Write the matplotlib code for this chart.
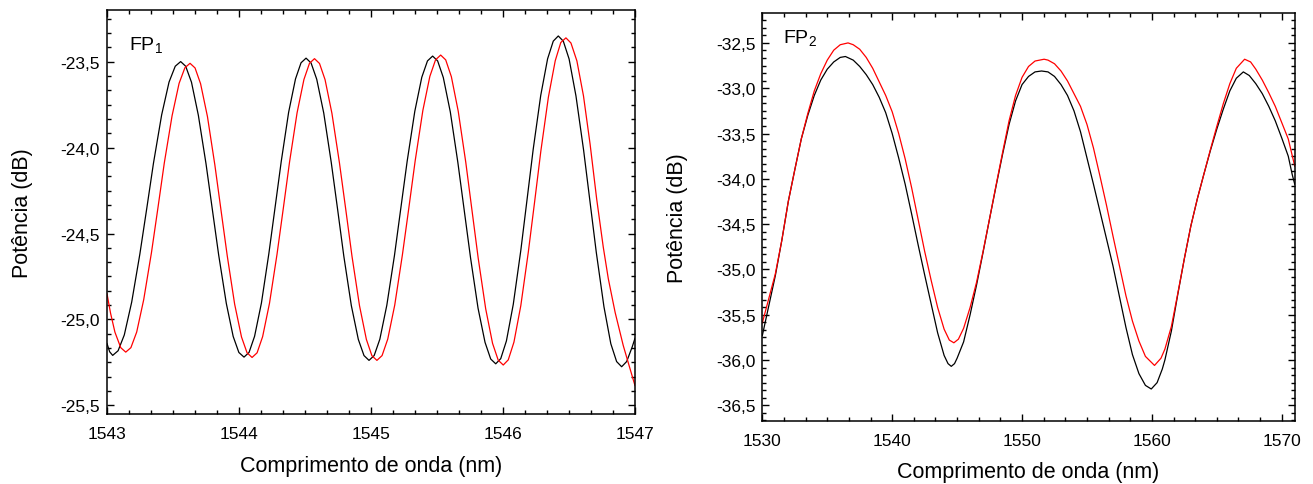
import matplotlib
matplotlib.use("Agg")
import matplotlib.pyplot as plt
from matplotlib.ticker import AutoMinorLocator, FuncFormatter, MultipleLocator

plt.rcParams['font.family'] = ['Liberation Sans', 'DejaVu Sans']
plt.rcParams['mathtext.default'] = 'regular'

# FP1 - black trace
fp1_wl_black = [1543.000, 1543.020, 1543.043,
                1543.084, 1543.131, 1543.187, 1543.249, 1543.301, 1543.352, 1543.414, 1543.470, 1543.517, 1543.558,
                1543.596, 1543.640, 1543.692, 1543.750, 1543.798, 1543.846, 1543.904, 1543.956, 1543.999, 1544.038,
                1544.076, 1544.118, 1544.170, 1544.226, 1544.273, 1544.320, 1544.376, 1544.428, 1544.470, 1544.508,
                1544.546, 1544.589, 1544.642, 1544.699, 1544.747, 1544.794, 1544.851, 1544.904, 1544.947, 1544.985,
                1545.024, 1545.067, 1545.120, 1545.178, 1545.226, 1545.274, 1545.332, 1545.385, 1545.428, 1545.467,
                1545.505, 1545.548, 1545.601, 1545.658, 1545.706, 1545.754, 1545.811, 1545.864, 1545.907, 1545.945,
                1545.983, 1546.026, 1546.078, 1546.135, 1546.182, 1546.229, 1546.286, 1546.338, 1546.381, 1546.419,
                1546.457, 1546.501, 1546.553, 1546.611, 1546.659, 1546.707, 1546.765, 1546.817, 1546.861, 1546.899,
                1546.937, 1546.979, 1547.000]
fp1_pw_black = [-25.140, -25.188, -25.209,
                -25.182, -25.090, -24.899, -24.619, -24.355, -24.091, -23.810, -23.619, -23.527, -23.500,
                -23.527, -23.620, -23.812, -24.094, -24.360, -24.625, -24.907, -25.099, -25.192, -25.219,
                -25.192, -25.098, -24.904, -24.618, -24.350, -24.081, -23.795, -23.601, -23.507, -23.480,
                -23.508, -23.603, -23.799, -24.087, -24.359, -24.631, -24.919, -25.116, -25.210, -25.238,
                -25.210, -25.115, -24.917, -24.627, -24.353, -24.080, -23.789, -23.591, -23.496, -23.468,
                -23.496, -23.593, -23.793, -24.086, -24.363, -24.640, -24.934, -25.133, -25.230, -25.258,
                -25.228, -25.125, -24.912, -24.599, -24.305, -24.010, -23.697, -23.484, -23.381, -23.351,
                -23.381, -23.485, -23.700, -24.016, -24.313, -24.610, -24.926, -25.141, -25.245, -25.275,
                -25.245, -25.160, -25.110]

# FP1 - red trace
fp1_wl_red = [1543.000, 1543.027, 1543.060, 1543.104, 1543.142,
              1543.181, 1543.225, 1543.278, 1543.337, 1543.386, 1543.434, 1543.493, 1543.546, 1543.590, 1543.629,
              1543.667, 1543.709, 1543.761, 1543.817, 1543.864, 1543.911, 1543.967, 1544.019, 1544.061, 1544.099,
              1544.137, 1544.179, 1544.231, 1544.288, 1544.336, 1544.383, 1544.440, 1544.492, 1544.534, 1544.572,
              1544.610, 1544.652, 1544.704, 1544.761, 1544.809, 1544.856, 1544.913, 1544.965, 1545.007, 1545.045,
              1545.084, 1545.127, 1545.180, 1545.238, 1545.287, 1545.335, 1545.393, 1545.446, 1545.489, 1545.528,
              1545.566, 1545.609, 1545.661, 1545.718, 1545.765, 1545.812, 1545.869, 1545.921, 1545.964, 1546.002,
              1546.040, 1546.083, 1546.135, 1546.192, 1546.240, 1546.287, 1546.344, 1546.396, 1546.438, 1546.477,
              1546.515, 1546.560, 1546.610, 1546.660, 1546.710, 1546.760, 1546.798, 1546.850, 1546.911, 1546.960,
              1547.000]
fp1_pw_red = [-24.851, -24.964, -25.074, -25.164, -25.190,
              -25.164, -25.073, -24.885, -24.610, -24.350, -24.090, -23.815, -23.627, -23.536, -23.510,
              -23.537, -23.629, -23.820, -24.101, -24.366, -24.630, -24.911, -25.102, -25.194, -25.221,
              -25.194, -25.100, -24.906, -24.621, -24.352, -24.084, -23.798, -23.604, -23.510, -23.483,
              -23.511, -23.605, -23.801, -24.089, -24.361, -24.632, -24.920, -25.116, -25.211, -25.238,
              -25.210, -25.114, -24.916, -24.624, -24.350, -24.076, -23.784, -23.586, -23.490, -23.462,
              -23.490, -23.588, -23.789, -24.085, -24.364, -24.642, -24.938, -25.139, -25.237, -25.265,
              -25.235, -25.132, -24.920, -24.608, -24.314, -24.020, -23.707, -23.495, -23.389, -23.362,
              -23.392, -23.496, -23.700, -23.980, -24.300, -24.580, -24.763, -24.960, -25.151, -25.280,
              -25.384]

# FP2 - black trace
fp2_wl_black = [1530.0, 1530.5, 1531.0, 1531.5, 1532.0, 1532.5, 1533.0, 1533.5, 1534.0, 1534.5,
                1535.0, 1535.5, 1536.0, 1536.4, 1537.0, 1537.5, 1538.0, 1538.5, 1539.0, 1539.5,
                1540.0, 1540.5, 1541.0, 1541.5, 1542.0, 1542.5, 1543.0, 1543.5, 1544.0, 1544.3,
                1544.55, 1544.8, 1545.0, 1545.5, 1546.0, 1546.5, 1547.0, 1547.5, 1548.0, 1548.5,
                1549.0, 1549.5, 1550.0, 1550.5, 1551.0, 1551.5, 1552.0, 1552.5, 1553.0, 1553.5,
                1554.0, 1554.5, 1555.0, 1555.5, 1556.0, 1556.5, 1557.0, 1557.5, 1558.0, 1558.5,
                1559.0, 1559.5, 1559.95, 1560.4, 1560.8, 1561.0, 1561.5, 1562.0, 1562.5, 1563.0,
                1563.5, 1564.0, 1564.5, 1565.0, 1565.5, 1566.0, 1566.5, 1567.04, 1567.5, 1568.0,
                1568.5, 1569.0, 1569.5, 1570.0, 1570.5, 1570.8, 1571.0]
fp2_pw_black = [-35.73, -35.40, -35.07, -34.68, -34.25, -33.90, -33.56, -33.30, -33.08, -32.91,
                -32.79, -32.71, -32.66, -32.65, -32.69, -32.76, -32.85, -32.96, -33.10, -33.27,
                -33.50, -33.77, -34.06, -34.39, -34.73, -35.06, -35.38, -35.70, -35.95, -36.04,
                -36.07, -36.04, -35.98, -35.80, -35.50, -35.17, -34.81, -34.44, -34.08, -33.73,
                -33.40, -33.14, -32.96, -32.87, -32.82, -32.81, -32.82, -32.87, -32.96, -33.08,
                -33.25, -33.48, -33.77, -34.06, -34.36, -34.66, -34.96, -35.30, -35.64, -35.94,
                -36.15, -36.28, -36.32, -36.25, -36.10, -36.00, -35.68, -35.27, -34.88, -34.52,
                -34.22, -33.95, -33.69, -33.45, -33.23, -33.03, -32.89, -32.82, -32.86, -32.95,
                -33.06, -33.20, -33.36, -33.55, -33.75, -33.95, -34.06]

# FP2 - red trace
fp2_wl_red = [1530.0, 1530.5, 1531.0, 1531.5, 1532.0, 1532.5, 1533.0, 1533.5, 1534.0, 1534.5,
              1535.0, 1535.5, 1536.0, 1536.6, 1537.0, 1537.5, 1538.0, 1538.5, 1539.0, 1539.5,
              1540.0, 1540.5, 1541.0, 1541.5, 1542.0, 1542.5, 1543.0, 1543.5, 1544.0, 1544.4,
              1544.75, 1545.1, 1545.5, 1546.0, 1546.5, 1547.0, 1547.5, 1548.0, 1548.5, 1549.0,
              1549.5, 1550.0, 1550.5, 1551.0, 1551.7, 1552.0, 1552.5, 1553.0, 1553.5, 1554.0,
              1554.5, 1555.0, 1555.5, 1556.0, 1556.5, 1557.0, 1557.5, 1558.0, 1558.5, 1559.0,
              1559.5, 1560.2, 1560.7, 1561.0, 1561.5, 1562.0, 1562.5, 1563.0, 1563.5, 1564.0,
              1564.5, 1565.0, 1565.5, 1566.0, 1566.5, 1567.14, 1567.6, 1568.0, 1568.5, 1569.0,
              1569.5, 1570.0, 1570.5, 1571.0]
fp2_pw_red = [-35.59, -35.32, -35.05, -34.68, -34.25, -33.90, -33.56, -33.28, -33.03, -32.84,
              -32.69, -32.58, -32.52, -32.50, -32.52, -32.57, -32.66, -32.78, -32.93, -33.08,
              -33.26, -33.50, -33.78, -34.10, -34.45, -34.80, -35.12, -35.42, -35.66, -35.78,
              -35.81, -35.77, -35.65, -35.42, -35.14, -34.80, -34.44, -34.07, -33.71, -33.36,
              -33.08, -32.88, -32.76, -32.70, -32.68, -32.69, -32.73, -32.81, -32.92, -33.06,
              -33.20, -33.40, -33.66, -33.97, -34.29, -34.63, -34.96, -35.29, -35.57, -35.79,
              -35.96, -36.06, -35.98, -35.88, -35.63, -35.26, -34.88, -34.52, -34.22, -33.95,
              -33.68, -33.42, -33.17, -32.95, -32.78, -32.68, -32.71, -32.79, -32.91, -33.05,
              -33.20, -33.38, -33.56, -33.86]


def comma(v, pos):
    return ('%.1f' % v).replace('.', ',')


def style_axes(ax, xmajor, ymajor):
    ax.xaxis.set_major_locator(MultipleLocator(xmajor))
    ax.yaxis.set_major_locator(MultipleLocator(ymajor))
    ax.xaxis.set_minor_locator(AutoMinorLocator(6))
    ax.yaxis.set_minor_locator(AutoMinorLocator(6))
    ax.yaxis.set_major_formatter(FuncFormatter(comma))
    ax.xaxis.set_major_formatter(FuncFormatter(lambda v, p: '%d' % round(v)))
    ax.tick_params(which='both', direction='in', top=True, right=True, width=1.0, labelsize=12.5)
    ax.tick_params(which='major', length=5)
    ax.tick_params(axis='x', which='major', pad=8.5)
    ax.tick_params(axis='y', which='major', pad=5)
    ax.tick_params(which='minor', length=3)
    for s in ax.spines.values():
        s.set_linewidth(1.1)
    ax.set_xlabel('Comprimento de onda (nm)', fontsize=15.5, labelpad=10)
    ax.set_ylabel('Potência (dB)', fontsize=15.5, labelpad=20)


fig = plt.figure(figsize=(13.13, 4.85), dpi=100)
ax1 = fig.add_axes([0.0815, 0.1443, 0.4021, 0.8330])
ax2 = fig.add_axes([0.5806, 0.1305, 0.4055, 0.8406])

ax1.plot(fp1_wl_black, fp1_pw_black, color='black', lw=0.9)
ax1.plot(fp1_wl_red, fp1_pw_red, color='red', lw=0.9)
ax1.set_xlim(1543, 1547)
ax1.set_ylim(-25.55, -23.2)
style_axes(ax1, 1, 0.5)
ax1.text(0.042, 0.94, 'FP$_1$', transform=ax1.transAxes, fontsize=14, va='top')

ax2.plot(fp2_wl_black, fp2_pw_black, color='black', lw=0.9)
ax2.plot(fp2_wl_red, fp2_pw_red, color='red', lw=0.9)
ax2.set_xlim(1530, 1571)
ax2.set_ylim(-36.67, -32.17)
style_axes(ax2, 10, 0.5)
ax2.text(0.038, 0.965, 'FP$_2$', transform=ax2.transAxes, fontsize=14, va='top')

fig.savefig('out.png', dpi=100)
